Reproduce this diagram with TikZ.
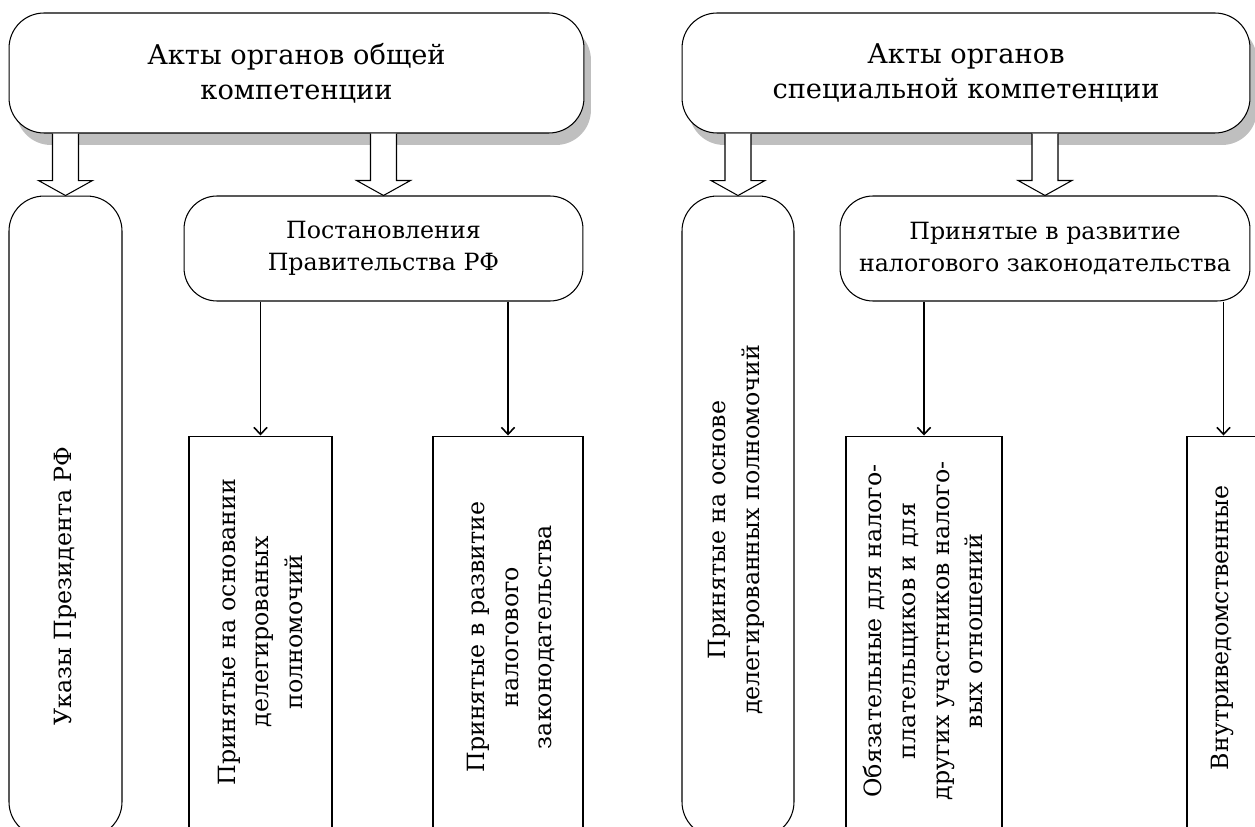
\documentclass[tikz,border=0pt]{standalone}
\usepackage{fontspec}
\setmainfont{DejaVu Serif}
\usetikzlibrary{arrows.meta, calc, shadows}

\begin{document}
\begin{tikzpicture}[
  x=0.02cm, y=-0.02cm,
  >={Straight Barb[length=4pt,width=7.5pt,line width=0.9pt]},
  line width=0.6pt,
  topbox/.style={draw, rounded corners=0.7cm, fill=white, minimum height=2.4cm, align=center,
    drop shadow={shadow xshift=0.14cm, shadow yshift=-0.24cm, fill=black!25, opacity=1},
    font=\fontsize{15.5}{20}\selectfont},
  midbox/.style={draw, rounded corners=0.66cm, fill=white, minimum height=2.1cm, align=center,
    font=\fontsize{13.5}{18.5}\selectfont},
  tallbox/.style={draw, rounded corners=0.7cm, minimum height=12.82cm},
  stripbox/.style={draw, minimum height=8.28cm},
  vtext/.style={rotate=90, align=center, font=\fontsize{13.5}{19.3}\selectfont},
  bigarrow/.style={draw, fill=white, line width=0.6pt}
]
\useasboundingbox (0,0) rectangle (1255,827);
\clip (0,0) rectangle (1255,827);

% GENERAL COMPETENCE
\node[topbox, minimum width=11.5cm] (aktyO) at (296.5,73) {Акты органов общей\\компетенции};
\node[tallbox, minimum width=2.26cm] (ukazy) at (65.5,516.5) {};
\node[midbox, minimum width=7.98cm] (post) at (383.5,248.5) {Постановления\\Правительства РФ};
\node[stripbox, minimum width=2.86cm] (deleg) at (260.5,643) {};
\node[stripbox, minimum width=3.0cm] (razv) at (508,643) {};

\node[vtext] (ukazy_t) at (65,586) {Указы Президента РФ};
\node[vtext] (deleg_t) at (260.5,632) {Принятые на основании\\делегированых\\полномочий};
\node[vtext] (razv_t) at (511,637) {Принятые в развитие\\налогового\\законодательства};

\draw[->] (deleg.north |- post.south) -- (deleg.north);
\draw[->] (razv.north |- post.south) -- (razv.north);

% SPECIAL COMPETENCE
\node[topbox, minimum width=11.36cm] (aktyS) at (966,73) {Акты органов\\специальной компетенции};
\node[tallbox, minimum width=2.24cm] (osnove) at (738,516.5) {};
\node[midbox, minimum width=8.2cm] (razvS) at (1045,248.5) {Принятые в развитие\\налогового законодательства};
\node[stripbox, minimum width=3.12cm] (obyaz) at (924,643) {};
\node[stripbox, minimum width=1.46cm] (vnutr) at (1223.5,643) {};

\node[vtext] (osnove_t) at (736,530) {Принятые на основе\\делегированных полномочий};
\node[vtext] (obyaz_t) at (923,631) {Обязательные для налого-\\плательщиков и для\\других участников налого-\\вых отношений};
\node[vtext] (vnutr_t) at (1222,628) {Внутриведомственные};

\draw[->] (obyaz.north |- razvS.south) -- (obyaz.north);
\draw[->] (vnutr.north |- razvS.south) -- (vnutr.north);

% BLOCK ARROWS
\foreach \src/\dst in {aktyO/ukazy, aktyO/post, aktyS/osnove, aktyS/razvS} {
  \draw[bigarrow] ($(\dst.north |- \src.south)+(-13,0)$) -- ($(\dst.north)+(-13,-15)$)
    -- ($(\dst.north)+(-27,-15)$) -- (\dst.north) -- ($(\dst.north)+(27,-15)$)
    -- ($(\dst.north)+(13,-15)$) -- ($(\dst.north |- \src.south)+(13,0)$);
}

\end{tikzpicture}
\end{document}
